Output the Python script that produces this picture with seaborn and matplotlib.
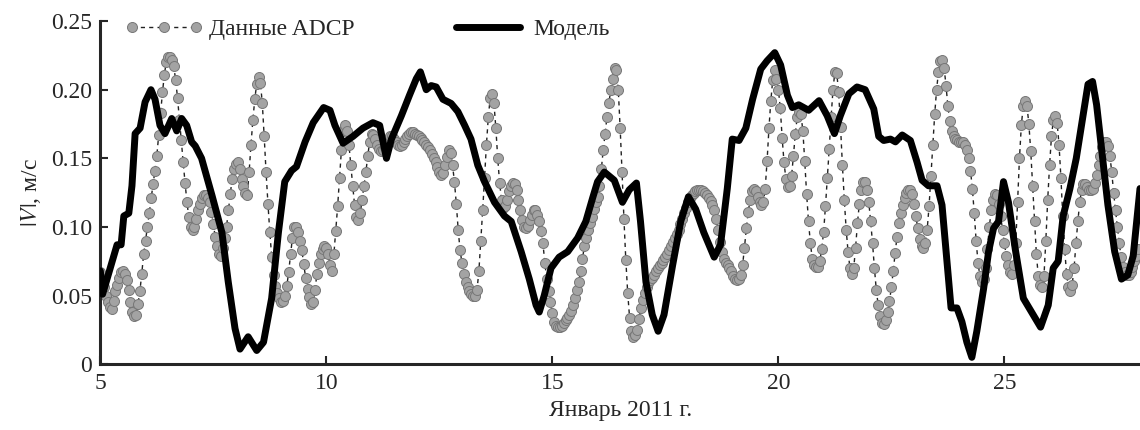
import numpy as np
import pandas as pd
import matplotlib
matplotlib.use("Agg")
import matplotlib.pyplot as plt
import seaborn as sns

# ADCP record: hourly values starting 5 Jan 00:00, one row per day (m/s)
adcp_start_day = 5
adcp_by_day = [
    [0.067, 0.062, 0.056, 0.050, 0.045, 0.042, 0.040, 0.046, 0.053, 0.058, 0.063, 0.067,
     0.068, 0.066, 0.061, 0.054, 0.045, 0.038, 0.035, 0.036, 0.044, 0.053, 0.066, 0.080],  # 5
    [0.090, 0.100, 0.110, 0.121, 0.131, 0.141, 0.152, 0.167, 0.183, 0.198, 0.211, 0.220,
     0.224, 0.224, 0.222, 0.217, 0.207, 0.194, 0.178, 0.163, 0.147, 0.132, 0.118, 0.107],  # 6
    [0.100, 0.098, 0.100, 0.106, 0.112, 0.117, 0.121, 0.123, 0.123, 0.121, 0.118, 0.111,
     0.102, 0.093, 0.086, 0.080, 0.079, 0.085, 0.092, 0.100, 0.112, 0.124, 0.135, 0.142],  # 7
    [0.146, 0.147, 0.142, 0.135, 0.130, 0.125, 0.123, 0.140, 0.160, 0.178, 0.193, 0.204,
     0.209, 0.205, 0.190, 0.166, 0.140, 0.117, 0.096, 0.078, 0.065, 0.057, 0.052, 0.048],  # 8
    [0.045, 0.046, 0.050, 0.057, 0.067, 0.080, 0.092, 0.100, 0.100, 0.096, 0.090, 0.083,
     0.073, 0.063, 0.055, 0.049, 0.044, 0.045, 0.054, 0.066, 0.074, 0.080, 0.084, 0.086],  # 9
    [0.085, 0.080, 0.072, 0.068, 0.080, 0.097, 0.115, 0.136, 0.156, 0.170, 0.174, 0.170,
     0.160, 0.145, 0.130, 0.116, 0.107, 0.105, 0.110, 0.120, 0.130, 0.140, 0.152, 0.162],  # 10
    [0.168, 0.167, 0.164, 0.160, 0.157, 0.155, 0.156, 0.158, 0.161, 0.164, 0.166, 0.166,
     0.164, 0.162, 0.160, 0.159, 0.160, 0.162, 0.164, 0.166, 0.168, 0.169, 0.169, 0.168],  # 11
    [0.167, 0.166, 0.165, 0.163, 0.162, 0.160, 0.158, 0.156, 0.153, 0.150, 0.147, 0.144,
     0.140, 0.138, 0.139, 0.145, 0.151, 0.156, 0.154, 0.145, 0.133, 0.117, 0.098, 0.083],  # 12
    [0.074, 0.066, 0.060, 0.056, 0.053, 0.051, 0.050, 0.050, 0.054, 0.068, 0.090, 0.112,
     0.136, 0.160, 0.180, 0.194, 0.197, 0.190, 0.172, 0.150, 0.132, 0.120, 0.114, 0.115],  # 13
    [0.120, 0.126, 0.130, 0.132, 0.131, 0.127, 0.120, 0.112, 0.105, 0.100, 0.099, 0.101,
     0.105, 0.109, 0.112, 0.112, 0.109, 0.104, 0.097, 0.088, 0.074, 0.062, 0.053, 0.045],  # 14
    [0.037, 0.031, 0.028, 0.027, 0.027, 0.028, 0.030, 0.032, 0.034, 0.036, 0.039, 0.043,
     0.048, 0.054, 0.060, 0.068, 0.077, 0.086, 0.092, 0.098, 0.103, 0.107, 0.113, 0.118],  # 15
    [0.122, 0.130, 0.142, 0.156, 0.168, 0.180, 0.190, 0.200, 0.208, 0.216, 0.214, 0.200,
     0.172, 0.140, 0.106, 0.076, 0.052, 0.034, 0.024, 0.020, 0.021, 0.025, 0.033, 0.041],  # 16
    [0.047, 0.052, 0.056, 0.059, 0.061, 0.063, 0.065, 0.068, 0.070, 0.072, 0.074, 0.076,
     0.078, 0.080, 0.083, 0.086, 0.089, 0.092, 0.095, 0.098, 0.102, 0.106, 0.110, 0.114],  # 17
    [0.118, 0.121, 0.123, 0.125, 0.126, 0.127, 0.127, 0.127, 0.126, 0.125, 0.123, 0.121,
     0.119, 0.116, 0.112, 0.106, 0.098, 0.089, 0.082, 0.077, 0.074, 0.072, 0.070, 0.068],  # 18
    [0.064, 0.062, 0.061, 0.062, 0.065, 0.072, 0.085, 0.099, 0.111, 0.120, 0.126, 0.128,
     0.126, 0.122, 0.118, 0.116, 0.118, 0.128, 0.148, 0.172, 0.192, 0.207, 0.214, 0.208],  # 19
    [0.200, 0.187, 0.165, 0.147, 0.135, 0.129, 0.130, 0.137, 0.152, 0.168, 0.180, 0.184,
     0.182, 0.170, 0.148, 0.124, 0.104, 0.088, 0.077, 0.072, 0.071, 0.071, 0.075, 0.084],  # 20
    [0.096, 0.115, 0.136, 0.157, 0.180, 0.200, 0.213, 0.212, 0.198, 0.173, 0.145, 0.120,
     0.098, 0.082, 0.070, 0.066, 0.070, 0.085, 0.103, 0.117, 0.127, 0.133, 0.133, 0.127],  # 21
    [0.118, 0.104, 0.088, 0.070, 0.054, 0.043, 0.035, 0.030, 0.029, 0.032, 0.038, 0.046,
     0.056, 0.068, 0.081, 0.093, 0.103, 0.110, 0.116, 0.121, 0.125, 0.127, 0.127, 0.124],  # 22
    [0.117, 0.108, 0.099, 0.091, 0.086, 0.085, 0.088, 0.098, 0.115, 0.137, 0.160, 0.182,
     0.200, 0.213, 0.221, 0.222, 0.216, 0.203, 0.188, 0.177, 0.170, 0.166, 0.164, 0.163],  # 23
    [0.162, 0.162, 0.162, 0.160, 0.156, 0.150, 0.141, 0.128, 0.110, 0.090, 0.074, 0.064,
     0.060, 0.062, 0.070, 0.084, 0.100, 0.112, 0.120, 0.124, 0.123, 0.117, 0.108, 0.098],  # 24
    [0.088, 0.079, 0.072, 0.067, 0.066, 0.072, 0.088, 0.118, 0.150, 0.174, 0.188, 0.192,
     0.188, 0.175, 0.155, 0.130, 0.104, 0.080, 0.064, 0.058, 0.056, 0.064, 0.090, 0.120],  # 25
    [0.145, 0.166, 0.178, 0.181, 0.176, 0.160, 0.136, 0.108, 0.084, 0.066, 0.056, 0.053,
     0.058, 0.070, 0.088, 0.104, 0.118, 0.127, 0.131, 0.131, 0.129, 0.127, 0.127, 0.128],  # 26
    [0.132, 0.138, 0.145, 0.152, 0.158, 0.162, 0.162, 0.159, 0.152, 0.140, 0.125, 0.112,
     0.100, 0.088, 0.078, 0.071, 0.067, 0.065, 0.065, 0.067, 0.071, 0.075, 0.079, 0.084],  # 27
]

# model curve (day of January, |V| m/s)
model_t = [5.00, 5.05, 5.22, 5.37, 5.46, 5.52, 5.63, 5.70, 5.77, 5.88, 5.99, 6.12, 6.21, 6.32,
           6.43, 6.58, 6.69, 6.80, 6.91, 7.02, 7.10, 7.24, 7.47, 7.69, 7.83, 7.98, 8.09, 8.27,
           8.46, 8.61, 8.79, 8.94, 9.08, 9.23, 9.34, 9.53, 9.71, 9.94, 10.08, 10.19, 10.37,
           10.59, 10.81, 11.03, 11.18, 11.33, 11.44, 11.66, 11.84, 11.99, 12.08, 12.21, 12.32,
           12.43, 12.58, 12.76, 12.91, 13.06, 13.20, 13.35, 13.50, 13.72, 13.94, 14.09, 14.31,
           14.49, 14.64, 14.71, 14.82, 14.97, 15.15, 15.34, 15.56, 15.74, 15.89, 16.00, 16.15,
           16.37, 16.55, 16.70, 16.86, 16.95, 17.07, 17.21, 17.34, 17.47, 17.66, 17.84, 18.01,
           18.17, 18.35, 18.58, 18.72, 18.87, 18.98, 19.13, 19.28, 19.43, 19.61, 19.75, 19.92,
           20.05, 20.20, 20.31, 20.45, 20.67, 20.90, 21.08, 21.24, 21.37, 21.56, 21.74, 21.92,
           22.11, 22.22, 22.33, 22.48, 22.59, 22.74, 22.92, 23.07, 23.18, 23.32, 23.51, 23.62,
           23.73, 23.82, 23.95, 24.06, 24.17, 24.28, 24.39, 24.54, 24.65, 24.76, 24.87, 24.98,
           25.09, 25.24, 25.42, 25.60, 25.80, 25.97, 26.08, 26.19, 26.30, 26.45, 26.59, 26.74,
           26.85, 26.95, 27.04, 27.15, 27.29, 27.44, 27.59, 27.73, 27.85, 28.00]
model_v = [0.068, 0.051, 0.070, 0.087, 0.087, 0.108, 0.110, 0.130, 0.168, 0.172, 0.191, 0.200,
           0.193, 0.174, 0.168, 0.179, 0.170, 0.179, 0.174, 0.162, 0.159, 0.150, 0.123, 0.096,
           0.060, 0.026, 0.011, 0.020, 0.010, 0.016, 0.048, 0.096, 0.133, 0.141, 0.144, 0.162,
           0.176, 0.187, 0.185, 0.174, 0.161, 0.166, 0.172, 0.176, 0.174, 0.150, 0.164, 0.181,
           0.196, 0.208, 0.213, 0.200, 0.203, 0.202, 0.193, 0.190, 0.184, 0.174, 0.164, 0.145,
           0.133, 0.118, 0.108, 0.104, 0.082, 0.062, 0.043, 0.038, 0.050, 0.070, 0.078, 0.082,
           0.092, 0.104, 0.121, 0.133, 0.140, 0.134, 0.118, 0.127, 0.132, 0.104, 0.060, 0.036,
           0.024, 0.036, 0.072, 0.104, 0.122, 0.113, 0.096, 0.078, 0.087, 0.128, 0.164, 0.163,
           0.172, 0.193, 0.215, 0.221, 0.227, 0.218, 0.196, 0.187, 0.189, 0.185, 0.192, 0.181,
           0.168, 0.181, 0.197, 0.202, 0.200, 0.186, 0.166, 0.163, 0.164, 0.162, 0.167, 0.163,
           0.147, 0.134, 0.130, 0.130, 0.116, 0.075, 0.041, 0.041, 0.031, 0.016, 0.005, 0.024,
           0.055, 0.082, 0.099, 0.104, 0.133, 0.118, 0.084, 0.048, 0.038, 0.027, 0.043, 0.070,
           0.075, 0.108, 0.128, 0.150, 0.181, 0.204, 0.206, 0.189, 0.157, 0.116, 0.082, 0.062,
           0.065, 0.079, 0.128]

x_ticks = [5, 10, 15, 20, 25]
y_ticks = [0, 0.05, 0.10, 0.15, 0.20, 0.25]
y_tick_labels = ["0", "0.05", "0.10", "0.15", "0.20", "0.25"]

sns.set_style("ticks")
plt.rcParams['font.family'] = ['Liberation Serif', 'DejaVu Serif']
plt.rcParams['mathtext.fontset'] = 'stix'

adcp_v = np.concatenate([np.array(day) for day in adcp_by_day])
adcp = pd.DataFrame({
    "t": adcp_start_day + np.arange(len(adcp_v)) / 24.0,
    "v": adcp_v,
})
model = pd.DataFrame({"t": model_t, "v": model_v})

fig = plt.figure(figsize=(11.4, 4.3), dpi=100)
ax = fig.add_axes([0.088, 0.153, 0.912, 0.798])

sns.lineplot(data=adcp, x="t", y="v", ax=ax, color="#222222", lw=1.0,
             linestyle=(0, (3, 3)), marker="o", markersize=7.2,
             markerfacecolor="#a3a3a3", markeredgecolor="#777777",
             markeredgewidth=0.7, label="Данные ADCP", zorder=2)
sns.lineplot(data=model, x="t", y="v", ax=ax, color="black", lw=5.0,
             sort=False, label="Модель", zorder=3,
             solid_joinstyle="round", solid_capstyle="round")

ax.set_xlim(5, 28)
ax.set_ylim(0, 0.25)
ax.set_xticks(x_ticks)
ax.set_yticks(y_ticks)
ax.set_yticklabels(y_tick_labels)
ax.tick_params(direction="in", length=6, width=1.5, labelsize=17, pad=6)
for side in ["top", "right"]:
    ax.spines[side].set_visible(False)
for side in ["left", "bottom"]:
    ax.spines[side].set_linewidth(2.2)

ax.set_xlabel("Январь 2011 г.", fontsize=17, labelpad=5)
ax.set_ylabel(r"$|V|$, м/с", fontsize=17, labelpad=6)

leg = ax.legend(loc="upper left", bbox_to_anchor=(0.015, 1.035), ncol=2,
                frameon=False, fontsize=17, handlelength=3.3, numpoints=3,
                columnspacing=4.0, handletextpad=0.25, borderaxespad=0)

fig.savefig("out.png", dpi=100)
